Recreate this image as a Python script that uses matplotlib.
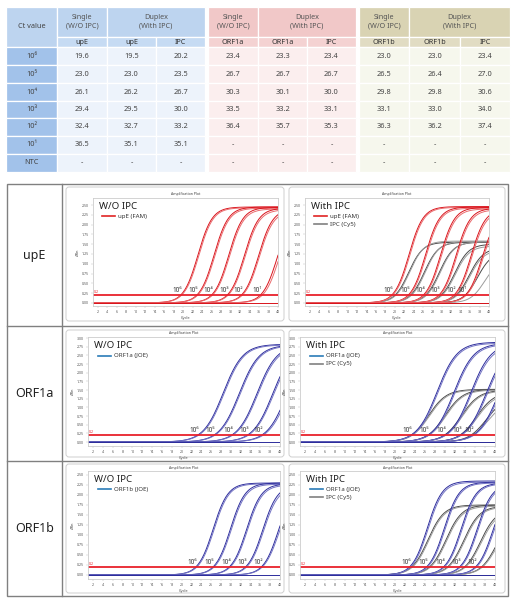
import numpy as np
import matplotlib
matplotlib.use("Agg")
import matplotlib.pyplot as plt
from matplotlib.patches import Rectangle, FancyBboxPatch

W, H = 517, 602
plt.rcParams["font.family"] = ["Noto Sans", "DejaVu Sans"]

# ---- table values ---------------------------------------------------------
ct_labels = ["10⁶", "10⁵", "10⁴", "10³", "10²", "10¹", "NTC"]
upE_single = ["19.6", "23.0", "26.1", "29.4", "32.4", "36.5", "-"]
upE_duplex = ["19.5", "23.0", "26.2", "29.5", "32.7", "35.1", "-"]
upE_ipc = ["20.2", "23.5", "26.7", "30.0", "33.2", "35.1", "-"]
orf1a_single = ["23.4", "26.7", "30.3", "33.5", "36.4", "-", "-"]
orf1a_duplex = ["23.3", "26.7", "30.1", "33.2", "35.7", "-", "-"]
orf1a_ipc = ["23.4", "26.7", "30.0", "33.1", "35.3", "-", "-"]
orf1b_single = ["23.0", "26.5", "29.8", "33.1", "36.3", "-", "-"]
orf1b_duplex = ["23.0", "26.4", "29.8", "33.0", "36.2", "-", "-"]
orf1b_ipc = ["23.4", "27.0", "30.6", "34.0", "37.4", "-", "-"]

# ---- amplification curves: per replicate threshold cycle and plateau (dRn) --
upE_wo_ct = [19.5, 19.7, 22.9, 23.1, 26.0, 26.2, 29.3, 29.5, 32.3, 32.5, 36.3, 36.7]
upE_wo_top = [2.45, 2.43, 2.45, 2.42, 2.44, 2.40, 2.42, 2.38, 2.40, 2.35, 2.30, 2.25]
upE_w_ct = [19.4, 19.6, 22.9, 23.1, 26.1, 26.3, 29.4, 29.6, 32.6, 32.8, 35.0, 35.2]
upE_w_top = [2.46, 2.44, 2.45, 2.42, 2.44, 2.40, 2.42, 2.38, 2.40, 2.35, 2.30, 2.25]
upE_ipc_ct = [20.1, 20.3, 23.4, 23.6, 26.6, 26.8, 29.9, 30.1, 33.1, 33.3, 35.0, 36.8]
upE_ipc_top = [1.55, 1.58, 1.55, 1.57, 1.55, 1.56, 1.50, 1.45, 1.40, 1.35, 1.30, 1.10]

orf1a_wo_ct = [23.3, 23.5, 26.6, 26.8, 30.2, 30.4, 33.4, 33.6, 36.3, 36.6]
orf1a_wo_top = [2.82, 2.80, 2.80, 2.78, 2.80, 2.76, 2.78, 2.72, 2.75, 2.70]
orf1a_w_ct = [23.2, 23.4, 26.6, 26.8, 30.0, 30.2, 33.1, 33.3, 35.6, 35.8]
orf1a_w_top = [2.88, 2.85, 2.85, 2.82, 2.85, 2.80, 2.80, 2.75, 2.75, 2.70]
orf1a_ipc_ct = [23.3, 23.5, 26.6, 26.8, 29.9, 30.1, 33.0, 33.2, 35.2, 35.6]
orf1a_ipc_top = [1.52, 1.50, 1.52, 1.50, 1.50, 1.48, 1.45, 1.40, 1.30, 1.20]

orf1b_wo_ct = [22.9, 23.1, 26.4, 26.6, 29.7, 29.9, 33.0, 33.2, 36.2, 36.4]
orf1b_wo_top = [2.30, 2.28, 2.30, 2.27, 2.28, 2.25, 2.25, 2.20, 2.20, 2.10]
orf1b_w_ct = [22.9, 23.1, 26.3, 26.5, 29.7, 29.9, 32.9, 33.1, 36.1, 36.3]
orf1b_w_top = [2.35, 2.32, 2.32, 2.30, 2.30, 2.28, 2.28, 2.25, 2.20, 2.15]
orf1b_ipc_ct = [23.3, 23.5, 26.9, 27.1, 30.5, 30.7, 33.9, 34.1, 37.3, 37.5]
orf1b_ipc_top = [1.75, 1.73, 1.75, 1.72, 1.72, 1.70, 1.65, 1.60, 1.50, 1.40]

THR = 0.2
RED = ["#d9141c", "#ea6b6e"]
BLUE = ["#2d2d9c", "#7474c4"]
GRAY = ["#4a4a4a", "#9c9c9c"]

fig = plt.figure(figsize=(W / 100, H / 100), dpi=100)
bg = fig.add_axes([0, 0, 1, 1])
bg.set_xlim(0, W); bg.set_ylim(H, 0); bg.axis("off")


def cell(x0, x1, y0, y1, fc, txt="", **kw):
    bg.add_patch(Rectangle((x0, y0), x1 - x0, y1 - y0, fc=fc, ec="white", lw=0.9))
    if txt:
        bg.text((x0 + x1) / 2, (y0 + y1) / 2, txt, ha="center", va="center",
                fontsize=kw.pop("fontsize", 5.5), color=kw.pop("color", "#444444"), **kw)


# ---- table ----------------------------------------------------------------
ROWS = [47, 65, 83, 101, 118, 136, 154, 172]


def block(xs, target, cols, hdr, sub, dat, ct_col=None):
    # xs: column edges of the data columns
    cell(xs[0], xs[1], 7, 37, hdr, "Single\n(W/O IPC)", fontsize=5.2, color="#555555", linespacing=1.3)
    cell(xs[1], xs[3], 7, 37, hdr, "Duplex\n(With IPC)", fontsize=5.2, color="#555555", linespacing=1.3)
    for j, name in enumerate([target, target, "IPC"]):
        cell(xs[j], xs[j + 1], 37, 47, sub, name, fontsize=5.2, color="#333333",
             fontweight="normal" if name == "IPC" else "bold")
    for i in range(7):
        for j in range(3):
            cell(xs[j], xs[j + 1], ROWS[i], ROWS[i + 1], dat, cols[j][i], fontsize=5.3)


cell(6, 57, 7, 47, "#bdd4ef", "Ct value", fontsize=5.3, color="#444444")
for i, lab in enumerate(ct_labels):
    cell(6, 57, ROWS[i], ROWS[i + 1], "#a2c2ea", lab, fontsize=5.3)
block([57, 107, 156, 205], "upE", [upE_single, upE_duplex, upE_ipc],
      "#bdd4ef", "#c6dbf3", "#edf3fb")
block([208, 258, 307, 356], "ORF1a", [orf1a_single, orf1a_duplex, orf1a_ipc],
      "#f1c8c8", "#f4d2d2", "#fbeeee")
block([359, 409, 460, 510], "ORF1b", [orf1b_single, orf1b_duplex, orf1b_ipc],
      "#d9d3b3", "#e1dcc3", "#f6f7ed")

# ---- lower grid -------------------------------------------------------------
bg.add_patch(Rectangle((7, 184), 501, 412, fill=False, ec="#808080", lw=1.0))
bg.plot([62, 62], [184, 596], color="#808080", lw=1.0)
for yy in (326, 461):
    bg.plot([7, 508], [yy, yy], color="#808080", lw=1.0)
for name, yc in [("upE", 255), ("ORF1a", 393.5), ("ORF1b", 528.5)]:
    bg.text(34.5, yc, name, ha="center", va="center", fontsize=9, color="#222222")

cyc = np.linspace(1, 40, 196)


def sig(ct, top, s):
    # logistic amplification curve passing the threshold at cycle ct
    m = ct + s * np.log(top / THR - 1)
    return top / (1 + np.exp(-(cyc - m) / s))


def panel(box, ylim, ytop, frame, title, entries, series, labels_ct):
    x0, x1, y0, y1 = box
    fr = FancyBboxPatch((frame[0], frame[1]), frame[2] - frame[0], frame[3] - frame[1],
                        boxstyle="round,pad=0,rounding_size=3", fc="white", ec="#cfcfcf", lw=0.7)
    bg.add_patch(fr)
    ax = fig.add_axes([x0 / W, 1 - y1 / H, (x1 - x0) / W, (y1 - y0) / H])
    ax.set_xlim(1, 40); ax.set_ylim(*ylim)
    for cts, tops, s, cols in series:
        for k, (c, t) in enumerate(zip(cts, tops)):
            ax.plot(cyc, sig(c, t, s), color=cols[k % 2], lw=0.7)
        ax.plot(cyc, np.zeros_like(cyc), color=cols[0], lw=0.7)
    ax.axhline(THR, color="#e8212b", lw=1.3)
    ax.text(1.2, THR + 0.02, "0.2", fontsize=2.6, color="#e8212b", va="bottom")
    for k, c in enumerate(labels_ct):
        ax.text(c - 0.8, THR + 0.03, ct_labels[k], fontsize=4.6, ha="center", va="bottom", color="#333333")
    ax.set_xticks(np.arange(2, 41, 2))
    ax.set_yticks(np.arange(0, ytop + 0.01, 0.25))
    ax.set_yticklabels([f"{v:.2f}" for v in np.arange(0, ytop + 0.01, 0.25)])
    ax.tick_params(labelsize=2.6, length=1.2, width=0.3, colors="#bbbbbb", labelcolor="#555555", pad=1.5)
    for sp in ax.spines.values():
        sp.set_color("#cccccc"); sp.set_linewidth(0.6)
    ax.set_title("Amplification Plot", fontsize=2.6, pad=1.8, color="#444444")
    ax.set_xlabel("Cycle", fontsize=2.8, labelpad=1.5, color="#444444")
    ax.set_ylabel("ΔRn", fontsize=2.8, labelpad=1.5, color="#444444")
    tx = ax.transAxes
    ax.text(0.03, 0.92, title, transform=tx, fontsize=7, fontweight="bold", va="center", color="#222222")
    for k, (lab, col) in enumerate(entries):
        yy = 0.83 - 0.075 * k
        ax.plot([0.05, 0.12], [yy, yy], transform=tx, color=col, lw=1.2)
        ax.text(0.135, yy, lab, transform=tx, fontsize=4.4, fontweight="bold", va="center", color="#333333")


def floats(col):
    return [float(v) for v in col if v != "-"]


# row 1: upE
panel((93, 278, 198, 306), (-0.08, 2.68), 2.5, (66, 187, 284, 321), "W/O IPC",
      [("upE (FAM)", "#e02424")], [(upE_wo_ct, upE_wo_top, 1.5, RED)], floats(upE_single))
panel((305, 489, 198, 306), (-0.08, 2.68), 2.5, (289, 187, 505, 321), "With IPC",
      [("upE (FAM)", "#e02424"), ("IPC (Cy5)", "#808080")],
      [(upE_ipc_ct, upE_ipc_top, 1.5, GRAY), (upE_w_ct, upE_w_top, 1.5, RED)], floats(upE_duplex))
# row 2: ORF1a
panel((88, 280, 337, 446), (-0.115, 3.03), 3.0, (66, 330, 284, 457), "W/O IPC",
      [("ORF1a (JOE)", "#2a7cb8")], [(orf1a_wo_ct, orf1a_wo_top, 2.0, BLUE)], floats(orf1a_single))
panel((300, 495, 337, 446), (-0.115, 3.03), 3.0, (289, 330, 505, 457), "With IPC",
      [("ORF1a (JOE)", "#2a7cb8"), ("IPC (Cy5)", "#808080")],
      [(orf1a_ipc_ct, orf1a_ipc_top, 1.8, GRAY), (orf1a_w_ct, orf1a_w_top, 2.0, BLUE)], floats(orf1a_duplex))
# row 3: ORF1b
panel((88, 280, 471, 579), (-0.1, 2.6), 2.5, (66, 464, 284, 593), "W/O IPC",
      [("ORF1b (JOE)", "#2a7cb8")], [(orf1b_wo_ct, orf1b_wo_top, 1.5, BLUE)], floats(orf1b_single))
panel((300, 495, 471, 579), (-0.1, 2.6), 2.5, (289, 464, 505, 593), "With IPC",
      [("ORF1a (JOE)", "#2a7cb8"), ("IPC (Cy5)", "#808080")],
      [(orf1b_ipc_ct, orf1b_ipc_top, 1.6, GRAY), (orf1b_w_ct, orf1b_w_top, 1.5, BLUE)], floats(orf1b_duplex))

fig.savefig("out.png", dpi=100)
